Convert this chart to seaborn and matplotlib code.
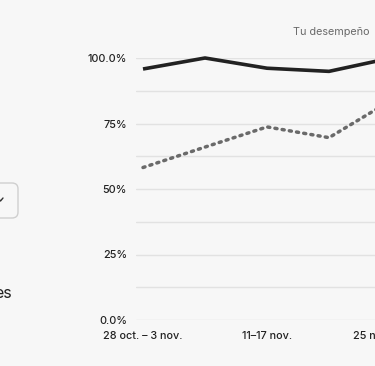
"""
Weekly performance chart (cropped dashboard view), rebuilt with seaborn.
"""

import matplotlib
matplotlib.use('Agg')
import matplotlib.pyplot as plt
from matplotlib.patches import FancyBboxPatch
from matplotlib.ticker import FixedLocator
import pandas as pd
import seaborn as sns

# Data
weeks = ['28 oct. – 3 nov.', '4–10 nov.', '11–17 nov.', '18–24 nov.', '25 nov. – 1 dic.']
tu_desempeno = [95.8, 100.0, 96.1, 94.9, 100.0]
referencia = [58.2, 66.0, 73.7, 69.6, 83.8]
y_ticks = [0, 25, 50, 75, 100]
y_tick_labels = ['0.0%', '25%', '50%', '75%', '100.0%']
x_tick_idx = [0, 2, 4]

BG = '#f7f7f7'
W, H = 375, 366

sns.set_theme(style='white')
plt.rcParams['font.family'] = ['Inter', 'DejaVu Sans']

df = pd.DataFrame({
    'idx': list(range(len(weeks))) * 2,
    'valor': tu_desempeno + referencia,
    'serie': ['Tu desempeño'] * len(weeks) + ['Referencia'] * len(weeks),
})

fig = plt.figure(figsize=(W / 100, H / 100), dpi=100, facecolor=BG)

# axes in pixel units; the right side runs past the figure edge (cropped view)
ax_left, ax_bottom, ax_w, ax_h = 136, 46, 286, 262
ax = fig.add_axes([ax_left / W, ax_bottom / H, ax_w / W, ax_h / H])
ax.set_facecolor(BG)

sns.lineplot(data=df, x='idx', y='valor', hue='serie', style='serie',
             hue_order=['Tu desempeño', 'Referencia'],
             palette={'Tu desempeño': '#222222', 'Referencia': '#6a6a6a'},
             dashes={'Tu desempeño': '', 'Referencia': (0.6, 1.5)},
             linewidth=2.5, legend=False, ax=ax)
for ln in ax.lines:
    ln.set_clip_on(False)
    ln.set_solid_capstyle('butt')
    ln.set_dash_capstyle('round')
ax.lines[0].set_linewidth(2.6)

ax.set_xlim(-7 / 62, 4.5)
ax.set_ylim(0, 100)
ax.yaxis.set_major_locator(FixedLocator(y_ticks))
ax.set_yticklabels(y_tick_labels)
ax.yaxis.set_minor_locator(FixedLocator([12.5, 37.5, 62.5, 87.5]))
ax.set_xticks(x_tick_idx)
ax.set_xticklabels([weeks[i] for i in x_tick_idx])
ax.grid(True, axis='y', which='both', color='#e2e2e2', linewidth=1.0)
ax.set_axisbelow(True)
for s in ax.spines.values():
    s.set_visible(False)
ax.tick_params(axis='y', which='both', length=0, pad=6.5, labelsize=7.8, labelcolor='#222222')
ax.tick_params(axis='x', length=0, pad=8, labelsize=7.8, labelcolor='#222222')
for lbl in ax.get_xticklabels() + ax.get_yticklabels():
    lbl.set_fontweight('medium')
ax.set_xlabel('')
ax.set_ylabel('')

# legend label (top right)
fig.text(293 / W, 1 - 32 / H, 'Tu desempeño', fontsize=7.8, color='#6a6a6a',
         ha='left', va='center')

# cropped UI bits on the left
box = FancyBboxPatch((-30 / W, 148 / H), 48 / W, 35 / H,
                     boxstyle='round,pad=0,rounding_size=0.016',
                     transform=fig.transFigure, facecolor=BG,
                     edgecolor='#cfcfcf', linewidth=1.0)
fig.patches.append(box)
fig.add_artist(plt.Line2D([-2 / W, 0.5 / W, 3 / W], [1 - 198 / H, 1 - 201 / H, 1 - 198 / H],
                          transform=fig.transFigure, color='#333333', linewidth=1.0))
fig.text(12 / W, 1 - 293 / H, 'es', fontsize=11.5, color='#222222', ha='right', va='center')

fig.savefig('out.png', dpi=100, facecolor=BG)
